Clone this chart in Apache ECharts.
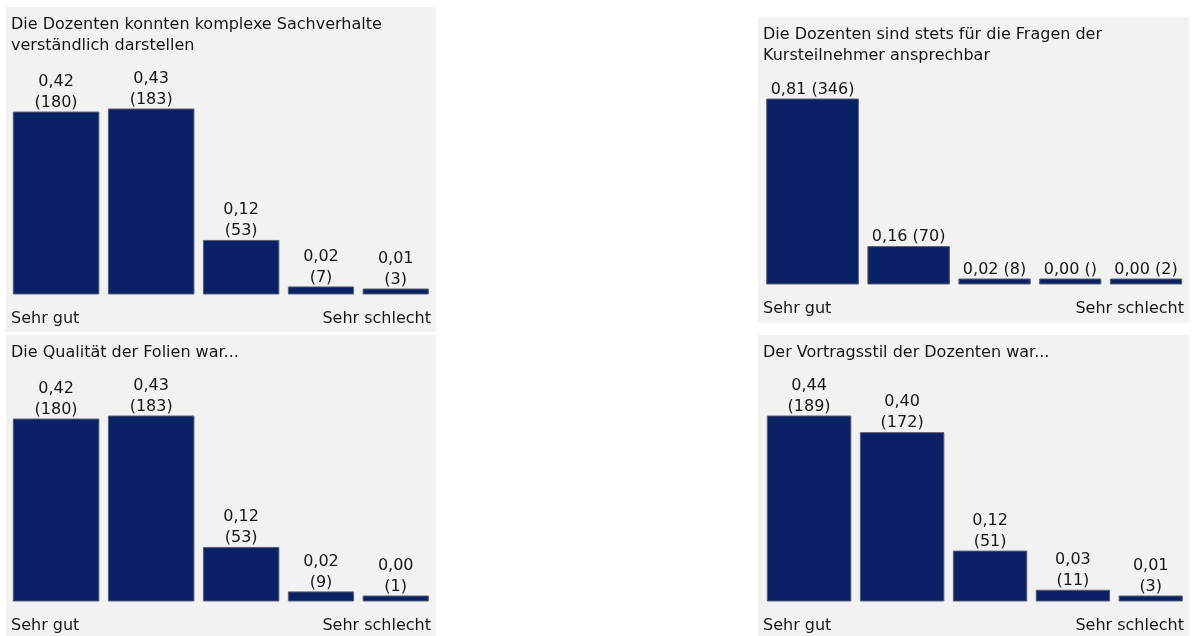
<!DOCTYPE html>
<html>
<head>
<meta charset="utf-8">
<script src="https://cdn.jsdelivr.net/npm/echarts@6/dist/echarts.min.js"></script>
<style>
  html, body { margin: 0; padding: 0; background: #ffffff; }
  body { width: 1193px; height: 636px; position: relative; overflow: hidden; }
  .panel { position: absolute; }
</style>
</head>
<body>
<script>
// Rating scale ends shown under each chart
const scaleEnds = ['Sehr gut', 'Sehr schlecht'];
const categories = [1, 2, 3, 4, 5];

// Question texts
const q1Title = 'Die Dozenten konnten komplexe Sachverhalte\nverständlich darstellen';
const q2Title = 'Die Dozenten sind stets für die Fragen der\nKursteilnehmer ansprechbar';
const q3Title = 'Die Qualität der Folien war...';
const q4Title = 'Der Vortragsstil der Dozenten war...';

// Share of answers per rating
const q1Shares = [0.42, 0.43, 0.12, 0.02, 0.01];
const q2Shares = [0.81, 0.16, 0.02, 0.00, 0.00];
const q3Shares = [0.42, 0.43, 0.12, 0.02, 0.00];
const q4Shares = [0.44, 0.40, 0.12, 0.03, 0.01];

// Number of answers per rating (null = no answers recorded)
const q1Counts = [180, 183, 53, 7, 3];
const q2Counts = [346, 70, 8, null, 2];
const q3Counts = [180, 183, 53, 9, 1];
const q4Counts = [189, 172, 51, 11, 3];

const FONT_SIZE = 16;
const FONT_FAMILY = '"DejaVu Sans", Verdana, sans-serif';
const TEXT_COLOR = '#161616';
const BAR_COLOR = '#0a2166';
const BAR_BORDER = '#5a5f6e';
const PANEL_BG = '#f2f2f2';
const SPAN = 415;       // width of the bar table
const GAP = 9.5;        // spacing between bars
const MAX_BAR = 185;    // height of the tallest bar
const MIN_BAR = 5;      // smallest visible bar

const panels = [
  { title: q1Title, shares: q1Shares, counts: q1Counts, wrap: true,
    box: { left: 6, top: 7, width: 430, height: 325 }, tableLeft: 7.3, baseline: 287 },
  { title: q2Title, shares: q2Shares, counts: q2Counts, wrap: false,
    box: { left: 758, top: 17, width: 431, height: 306 }, tableLeft: 8.7, baseline: 267 },
  { title: q3Title, shares: q3Shares, counts: q3Counts, wrap: true,
    box: { left: 6, top: 335, width: 430, height: 301 }, tableLeft: 7.3, baseline: 266 },
  { title: q4Title, shares: q4Shares, counts: q4Counts, wrap: true,
    box: { left: 758, top: 335, width: 431, height: 301 }, tableLeft: 9.3, baseline: 266 }
];

const measureCtx = document.createElement('canvas').getContext('2d');
measureCtx.font = FONT_SIZE + 'px ' + FONT_FAMILY;

function shareText(share) {
  return share.toFixed(2).replace('.', ',');
}
function countText(count) {
  return '(' + (count == null ? '' : count) + ')';
}

// Column widths: each column fits its answer count, the remaining space is shared equally
function columnLayout(counts) {
  const content = counts.map(c => measureCtx.measureText(countText(c)).width);
  const sum = content.reduce((a, b) => a + b, 0);
  const extra = (SPAN - GAP * (counts.length - 1) - sum) / counts.length;
  const cols = [];
  let x = 0;
  content.forEach(w => {
    cols.push({ start: x, width: w + extra });
    x += w + extra + GAP;
  });
  return cols;
}

panels.forEach(p => {
  const div = document.createElement('div');
  div.className = 'panel';
  div.style.left = p.box.left + 'px';
  div.style.top = p.box.top + 'px';
  div.style.width = p.box.width + 'px';
  div.style.height = p.box.height + 'px';
  document.body.appendChild(div);

  const labels = categories.map((_, i) =>
    shareText(p.shares[i]) + (p.wrap ? '\n' : ' ') + countText(p.counts[i]));
  const cols = columnLayout(p.counts);
  const maxCount = Math.max.apply(null, p.counts.map(c => c || 0));

  const chart = echarts.init(div, null, { renderer: 'canvas' });
  chart.setOption({
    animation: false,
    backgroundColor: PANEL_BG,
    title: {
      text: p.title,
      left: 5,
      top: 7,
      padding: 0,
      textStyle: {
        fontFamily: FONT_FAMILY, fontSize: FONT_SIZE, fontWeight: 'normal',
        color: TEXT_COLOR, lineHeight: 21
      }
    },
    grid: {
      left: p.tableLeft,
      width: SPAN,
      top: p.baseline - MAX_BAR,
      height: MAX_BAR
    },
    xAxis: { type: 'value', min: 0, max: SPAN, show: false },
    yAxis: { type: 'value', min: 0, max: maxCount, show: false },
    graphic: [
      {
        type: 'text', x: 5, y: p.baseline + 25,
        style: { text: scaleEnds[0], align: 'left', verticalAlign: 'middle',
                 fontSize: FONT_SIZE, fontFamily: FONT_FAMILY, fill: TEXT_COLOR }
      },
      {
        type: 'text', x: p.box.width - 5, y: p.baseline + 25,
        style: { text: scaleEnds[1], align: 'right', verticalAlign: 'middle',
                 fontSize: FONT_SIZE, fontFamily: FONT_FAMILY, fill: TEXT_COLOR }
      }
    ],
    series: [{
      type: 'custom',
      clip: false,
      data: categories.map((_, i) => [i, p.counts[i] == null ? 0 : p.counts[i]]),
      renderItem: function (params, api) {
        const i = api.value(0);
        const col = cols[i];
        const topLeft = api.coord([col.start, api.value(1)]);
        const bottomRight = api.coord([col.start + col.width, 0]);
        const h = Math.max(bottomRight[1] - topLeft[1], MIN_BAR);
        const yTop = bottomRight[1] - h;
        return {
          type: 'group',
          children: [
            {
              type: 'rect',
              shape: { x: topLeft[0], y: yTop, width: bottomRight[0] - topLeft[0], height: h },
              style: { fill: BAR_COLOR, stroke: BAR_BORDER, lineWidth: 1 }
            },
            {
              type: 'text',
              x: (topLeft[0] + bottomRight[0]) / 2,
              y: yTop + 1,
              style: {
                text: labels[i], align: 'center', verticalAlign: 'bottom',
                fontSize: FONT_SIZE, fontFamily: FONT_FAMILY, fill: TEXT_COLOR,
                lineHeight: 21
              }
            }
          ]
        };
      }
    }]
  });
});
</script>
</body>
</html>
